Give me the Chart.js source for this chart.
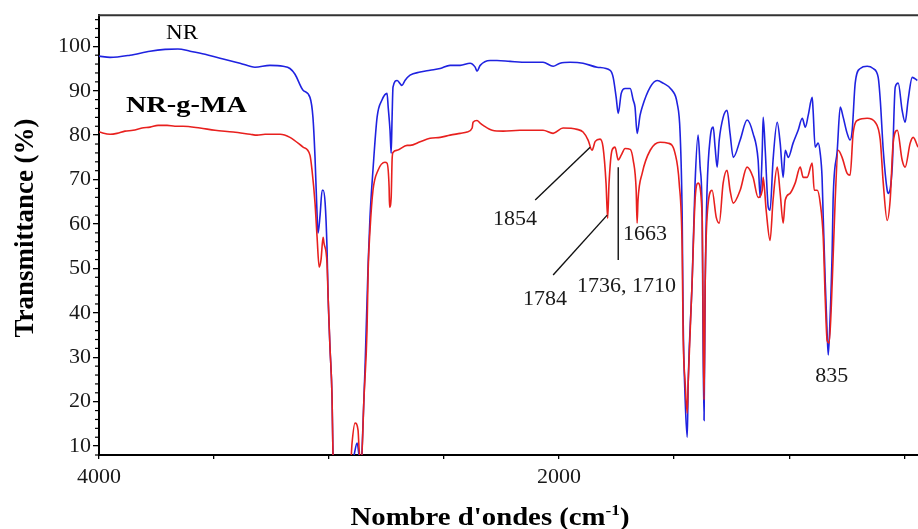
<!DOCTYPE html>
<html>
<head>
<meta charset="utf-8">
<script src="https://cdn.jsdelivr.net/npm/chart.js@4.4.1/dist/chart.umd.min.js"></script>
<style>
  html, body { margin: 0; padding: 0; background: #fff; }
  #wrap { width: 918px; height: 529px; }
</style>
</head>
<body>
<div id="wrap"><canvas id="ftir" width="918" height="529"></canvas></div>
<script>
// FTIR spectra, wavenumber (cm-1) against transmittance (%)
const nrWave = [4000, 3952, 3865, 3778, 3713, 3657, 3604, 3539, 3474, 3387, 3322, 3257, 3200, 3170, 3148, 3113, 3083, 3070, 3061, 3052, 3048, 3039, 3030, 3026, 3017, 3009, 3004, 2996, 2987, 2983, 2975, 2910, 2891, 2878, 2870, 2861, 2857, 2843, 2830, 2822, 2809, 2791, 2770, 2748, 2743, 2735, 2730, 2726, 2722, 2704, 2683, 2670, 2648, 2604, 2561, 2517, 2474, 2430, 2387, 2365, 2357, 2343, 2300, 2270, 2213, 2139, 2070, 2026, 1996, 1952, 1896, 1835, 1778, 1765, 1752, 1743, 1730, 1713, 1691, 1678, 1670, 1661, 1648, 1639, 1604, 1574, 1548, 1509, 1487, 1474, 1465, 1461, 1452, 1443, 1439, 1422, 1409, 1396, 1387, 1378, 1374, 1370, 1365, 1357, 1343, 1330, 1322, 1313, 1304, 1287, 1270, 1257, 1243, 1213, 1183, 1157, 1135, 1126, 1117, 1113, 1104, 1091, 1083, 1070, 1052, 1039, 1026, 1017, 1004, 983, 961, 943, 930, 917, 900, 896, 887, 874, 865, 857, 852, 843, 835, 830, 822, 813, 809, 791, 778, 765, 748, 735, 726, 713, 691, 661, 635, 613, 604, 591, 574, 570, 552, 539, 526, 509, 496, 483, 465, 443];
const nrT = [97.8, 97.5, 98.0, 98.9, 99.3, 99.4, 98.9, 98.2, 97.3, 96.2, 95.3, 95.7, 95.5, 95.0, 93.7, 90.1, 88.5, 84.0, 75.0, 62.0, 57.9, 62.0, 67.6, 67.6, 64.7, 54.8, 43.5, 32.3, 21.0, 8.4, 3, 3, 8.0, 10.7, 8.0, 5, 8.4, 28.7, 51.2, 61.6, 72.2, 84.1, 87.9, 89.4, 86.3, 81.1, 75.9, 84.0, 90.8, 92.3, 91.2, 92.3, 93.5, 94.2, 94.6, 95.0, 95.7, 95.7, 96.2, 95.3, 94.4, 95.7, 96.8, 96.8, 96.6, 96.4, 96.4, 95.5, 96.2, 96.4, 96.2, 95.3, 94.6, 93.0, 88.5, 84.9, 89.4, 90.5, 90.5, 87.9, 86.3, 80.4, 84.5, 86.3, 90.8, 92.3, 91.7, 90.1, 87.2, 80.4, 61.5, 39.0, 20.4, 12.0, 24.2, 46.7, 69.2, 80.0, 72.8, 61.5, 31.6, 15.8, 46.7, 67.6, 79.5, 81.8, 77.3, 72.8, 78.9, 84.0, 85.6, 80.4, 75.0, 78.9, 83.4, 80.4, 74.4, 66.0, 76.6, 84.0, 76.6, 63.8, 63.1, 74.4, 82.9, 78.2, 70.5, 76.6, 75.0, 78.2, 81.1, 83.8, 81.8, 84.5, 88.5, 85.6, 77.3, 78.2, 75.9, 70.5, 61.5, 46.7, 35.4, 30.5, 39.0, 54.1, 65.4, 76.6, 86.3, 84.0, 80.4, 78.9, 81.1, 91.7, 95.0, 95.5, 95.0, 93.0, 87.9, 76.6, 67.6, 66.9, 72.8, 90.8, 91.7, 85.6, 82.9, 87.9, 93.0, 92.3];

const graftWave = [4000, 3952, 3922, 3887, 3852, 3813, 3778, 3743, 3704, 3670, 3635, 3561, 3496, 3417, 3343, 3313, 3278, 3213, 3170, 3113, 3083, 3074, 3061, 3052, 3043, 3035, 3026, 3022, 3009, 3004, 2996, 2987, 2983, 2975, 2910, 2900, 2887, 2874, 2870, 2861, 2848, 2835, 2830, 2822, 2809, 2787, 2757, 2748, 2739, 2737, 2730, 2726, 2722, 2704, 2661, 2648, 2604, 2561, 2517, 2474, 2430, 2400, 2378, 2374, 2357, 2343, 2330, 2291, 2243, 2170, 2070, 2026, 1983, 1922, 1896, 1874, 1857, 1843, 1822, 1809, 1796, 1789, 1783, 1770, 1757, 1743, 1730, 1713, 1691, 1678, 1665, 1661, 1657, 1639, 1604, 1561, 1526, 1496, 1478, 1465, 1461, 1452, 1443, 1439, 1422, 1409, 1396, 1378, 1374, 1370, 1365, 1357, 1335, 1317, 1304, 1287, 1270, 1257, 1243, 1213, 1183, 1157, 1135, 1117, 1113, 1100, 1083, 1070, 1052, 1039, 1026, 1017, 996, 974, 952, 939, 922, 900, 891, 878, 865, 852, 843, 835, 826, 813, 800, 787, 770, 748, 735, 722, 700, 661, 626, 604, 591, 574, 561, 548, 530, 509, 496, 474, 461, 440];
const graftT = [80.7, 80.2, 80.4, 80.9, 81.1, 81.6, 81.8, 82.2, 82.2, 82.0, 82.0, 81.6, 81.1, 80.7, 80.2, 80.0, 80.2, 80.2, 79.5, 77.3, 75.5, 72.1, 64.7, 57.0, 50.3, 51.9, 57.0, 55.7, 51.2, 43.5, 32.3, 21.0, 8.4, 3, 3, 10.7, 15.2, 13.6, 9.9, 5, 21.0, 36.1, 49.6, 58.6, 67.6, 72.1, 73.9, 73.7, 68.3, 63.8, 66.0, 74.4, 76.1, 76.6, 77.7, 77.7, 78.5, 79.3, 79.5, 80.0, 80.4, 80.7, 81.6, 82.9, 83.3, 82.7, 82.2, 81.1, 80.9, 81.1, 81.1, 80.4, 81.6, 81.3, 80.7, 78.9, 76.6, 78.6, 79.1, 77.3, 69.2, 61.3, 69.2, 76.6, 77.3, 74.4, 75.5, 77.0, 76.8, 74.4, 67.6, 60.2, 65.4, 71.4, 76.6, 78.4, 78.2, 75.9, 69.2, 54.1, 35.4, 24.2, 17.4, 24.2, 46.7, 65.4, 69.2, 61.5, 39.0, 20.4, 46.7, 61.5, 67.6, 61.5, 60.2, 69.2, 72.1, 67.6, 64.7, 67.6, 72.8, 70.5, 66.0, 67.6, 70.5, 63.1, 56.3, 65.4, 72.8, 66.9, 60.2, 65.4, 66.9, 69.2, 72.8, 70.5, 70.5, 73.7, 67.6, 67.6, 64.7, 57.0, 42.8, 33.8, 33.2, 46.7, 65.4, 76.6, 75.0, 71.4, 71.0, 80.4, 83.4, 83.8, 82.9, 78.9, 69.2, 60.8, 65.4, 78.2, 81.1, 74.4, 72.8, 78.2, 79.5, 77.3];

const xTicks = [4000, 3500, 3000, 2500, 2000, 1500, 1000, 500];
const xTickLabels = [4000, 2000];
const yTicks = [10, 20, 30, 40, 50, 60, 70, 80, 90, 100];
const seriesNames = ["NR", "NR-g-MA"];
const peakLabels = ["1854", "1784", "1736, 1710", "1663", "835"];

const SERIF = '"Liberation Serif", "Times New Roman", serif';

function toPoints(xs, ys) {
  return xs.map((w, i) => ({ x: w, y: ys[i] }));
}

// text slightly widened, like the scanned figure
function stretchText(ctx, text, px, py, font, sx, align) {
  ctx.save();
  ctx.font = font;
  ctx.textAlign = "left";
  ctx.textBaseline = "alphabetic";
  const w = ctx.measureText(text).width * sx;
  let x0 = px;
  if (align === "center") x0 = px - w / 2;
  if (align === "right") x0 = px - w;
  ctx.translate(x0, py);
  ctx.scale(sx, 1);
  ctx.fillText(text, 0, 0);
  ctx.restore();
  return w;
}

const decor = {
  id: "decor",
  afterDraw(chart) {
    const { ctx, chartArea: a, scales: { x, y } } = chart;
    const P = (w, t) => [x.getPixelForValue(w), y.getPixelForValue(t)];
    ctx.save();

    // top frame line
    ctx.strokeStyle = "#333";
    ctx.lineWidth = 2;
    ctx.beginPath();
    ctx.moveTo(a.left - 1, a.top);
    ctx.lineTo(a.right, a.top);
    ctx.stroke();

    // minor ticks on the y axis
    ctx.strokeStyle = "#000";
    ctx.lineWidth = 1.2;
    for (let v = 8; v <= 106; v += 2) {
      if (v % 10 === 0) continue;
      const py = y.getPixelForValue(v);
      ctx.beginPath();
      ctx.moveTo(a.left - 1, py);
      ctx.lineTo(a.left - 4, py);
      ctx.stroke();
    }

    // leader lines to the peaks
    ctx.strokeStyle = "#111";
    ctx.lineWidth = 1.4;
    const leaders = [
      [[2104, 65.4], [1865, 77.3]],
      [[2026, 48.5], [1791, 62.0]],
      [[1743, 51.9], [1743, 72.8]]
    ];
    leaders.forEach(([p, q]) => {
      const [x1, y1] = P(p[0], p[1]);
      const [x2, y2] = P(q[0], q[1]);
      ctx.beginPath();
      ctx.moveTo(x1, y1);
      ctx.lineTo(x2, y2);
      ctx.stroke();
    });

    // peak labels
    ctx.fillStyle = "#1a1a1a";
    const spots = [[2287, 59.8], [2157, 41.7], [1922, 44.6], [1722, 56.3], [887, 24.4]];
    peakLabels.forEach((t, i) => {
      const [px, py] = P(spots[i][0], spots[i][1]);
      stretchText(ctx, t, px, py, "20px " + SERIF, 1.1, "left");
    });

    // series names
    ctx.fillStyle = "#000";
    let [nx, ny] = P(3709, 101.6);
    stretchText(ctx, seriesNames[0], nx, ny, "22px " + SERIF, 1.05, "left");
    [nx, ny] = P(3883, 85.2);
    stretchText(ctx, seriesNames[1], nx, ny, "bold 24px " + SERIF, 1.18, "left");

    // y axis title
    ctx.save();
    ctx.translate(33, 228);
    ctx.rotate(-Math.PI / 2);
    ctx.font = "bold 27px " + SERIF;
    ctx.textAlign = "center";
    ctx.textBaseline = "alphabetic";
    ctx.fillText("Transmittance (%)", 0, 0);
    ctx.restore();

    // x axis title with superscript
    const main = "bold 25px " + SERIF, small = "bold 15px " + SERIF, sx = 1.15;
    ctx.font = main;
    const w1 = ctx.measureText("Nombre d'ondes (cm").width * sx;
    const w3 = ctx.measureText(")").width * sx;
    ctx.font = small;
    const w2 = ctx.measureText("-1").width * sx;
    let cx = 490 - (w1 + w2 + w3) / 2;
    const base = 525;
    cx += stretchText(ctx, "Nombre d'ondes (cm", cx, base, main, sx, "left");
    cx += stretchText(ctx, "-1", cx, base - 10, small, sx, "left");
    stretchText(ctx, ")", cx, base, main, sx, "left");

    ctx.restore();
  }
};

new Chart(document.getElementById("ftir"), {
  type: "line",
  data: {
    datasets: [
      {
        label: seriesNames[1],
        data: toPoints(graftWave, graftT),
        borderColor: "#e8201e",
        borderWidth: 1.6,
        pointRadius: 0,
        cubicInterpolationMode: "monotone"
      },
      {
        label: seriesNames[0],
        data: toPoints(nrWave, nrT),
        borderColor: "#1f22e0",
        borderWidth: 1.6,
        pointRadius: 0,
        cubicInterpolationMode: "monotone"
      }
    ]
  },
  options: {
    responsive: false,
    animation: false,
    devicePixelRatio: 1,
    layout: { padding: { top: 15, left: 0, right: 0, bottom: 0 } },
    plugins: {
      legend: { display: false },
      tooltip: { enabled: false }
    },
    scales: {
      x: {
        type: "linear",
        reverse: true,
        min: 440,
        max: 4000,
        afterBuildTicks: s => { s.ticks = xTicks.map(v => ({ value: v })); },
        afterFit: s => { s.height = 74; },
        grid: { drawOnChartArea: false, tickLength: 4, color: "#000", lineWidth: 1.3 },
        border: { color: "#000", width: 2 },
        ticks: {
          autoSkip: false,
          maxRotation: 0,
          padding: 5,
          color: "#1a1a1a",
          font: { family: SERIF, size: 22 },
          callback: v => (xTickLabels.includes(v) ? String(v) : "")
        }
      },
      y: {
        min: 8,
        max: 107,
        afterBuildTicks: s => { s.ticks = yTicks.map(v => ({ value: v })); },
        afterFit: s => { s.width = 99; },
        grid: { drawOnChartArea: false, tickLength: 6, color: "#000", lineWidth: 1.3 },
        border: { color: "#000", width: 2 },
        ticks: {
          padding: 2,
          color: "#1a1a1a",
          font: { family: SERIF, size: 22 }
        }
      }
    }
  },
  plugins: [decor]
});
</script>
</body>
</html>
